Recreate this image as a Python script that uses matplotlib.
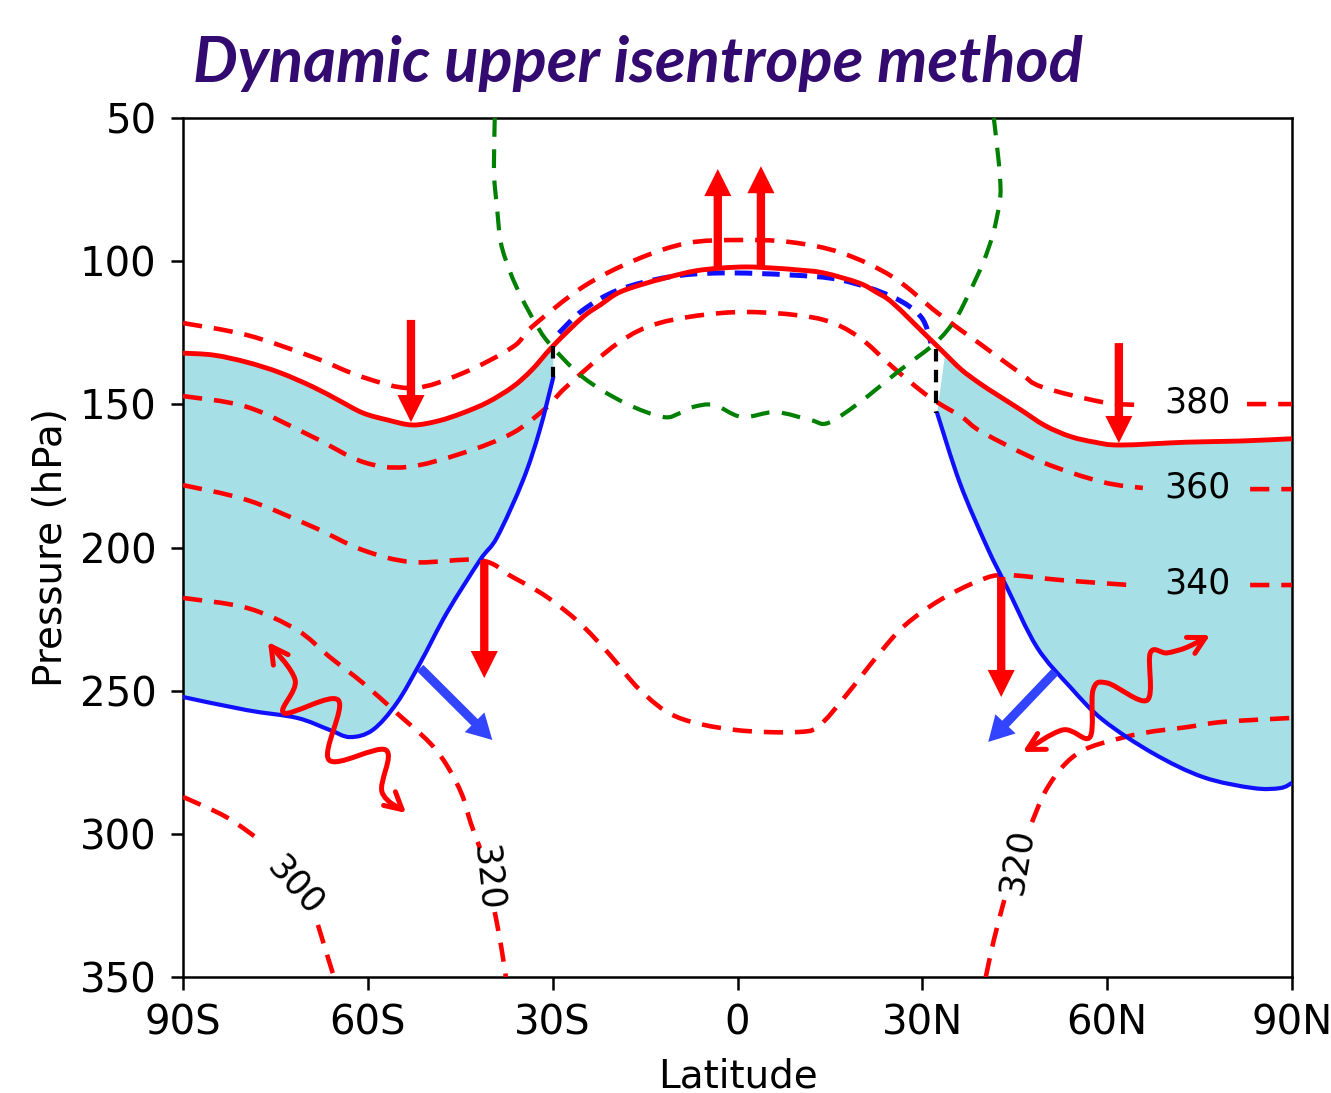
import numpy as np
import matplotlib.pyplot as plt
from matplotlib.path import Path
from matplotlib.patches import FancyArrowPatch, PathPatch

# latitude in degrees (negative = south), pressure in hPa
# NaN marks the gap where a contour label sits

# dynamic tropopause (solid red)
trop_lat = [-90, -85.0, -79.6, -74.3, -68.9, -64.8, -60.8, -56.7, -52.7, -48.6, -44.6, -40.5,
            -36.5, -33.4, -29.9, -25.1, -22.3, -19.4, -15.8, -11.1, -6.9, -2.7, 1.5,
            5.8, 10.1, 14.0, 19.7, 22.5, 25.2, 30.9, 32.1, 33.7, 36.4, 39.4, 42.1,
            45.9, 49.9, 54.0, 58.0, 62.1, 73.0, 81.6, 90]
trop_p = [132.1, 132.8, 135.3, 138.9, 143.9, 148.5, 153.0, 155.5, 157.2, 155.8, 153.0, 149.2,
          143.9, 138.0, 129.5, 119.5, 115.3, 111.1, 108.3, 105.5, 103.4, 102.4, 102.0,
          102.4, 103.1, 104.1, 107.6, 110.8, 114.6, 126.5, 129.0, 132.4, 138.0, 142.8, 146.6,
          151.8, 157.4, 161.2, 163.2, 164.2, 163.2, 162.8, 162.0]

# tropical upper boundary (blue dashed)
trop_blue_lat = [-29.0, -25.1, -19.4, -11.1, -2.7, 8.5, 16.9, 25.2, 29.8, 31.4]
trop_blue_p = [125.1, 117.1, 110.1, 105.5, 104.1, 104.8, 106.6, 112.5, 119.5, 128.6]

# lower boundary of the extratropical layer (solid blue)
south_blue_lat = [-29.9, -32.1, -34.8, -39.0, -41.8, -47.2, -51.5, -55.3, -59.2, -62.9,
                  -66.2, -71.5, -79.6, -90]
south_blue_p = [140.5, 159.0, 176.4, 196.3, 204.4, 222.9, 240.3, 254.3, 263.7, 266.2,
                263.7, 259.5, 256.8, 252.2]
north_blue_lat = [32.4, 36.1, 40.5, 43.7, 48.6, 54.0, 59.3, 67.4, 75.6, 83.7, 88.1, 90]
north_blue_p = [153.0, 177.5, 199.8, 213.8, 234.8, 248.7, 260.2, 271.8, 280.2, 284.0,
                284.0, 282.2]

# isentropes (red dashed)
th380_lat = [-90, -79.6, -68.9, -60.8, -52.7, -44.6, -36.5, -33.4, -25.1, -16.6, -8.2, 0.1,
             8.5, 16.9, 25.2, 32.5, 39.2, 45.9, 49.4, 59.2, 65.0, 74.0, 82.7, 90]
th380_p = [121.6, 125.8, 133.5, 140.5, 144.3, 139.1, 130.0, 123.0, 109.0, 99.6, 93.7, 92.6,
           93.3, 97.1, 105.5, 118.1, 128.6, 139.1, 143.9, 149.2, 150.2, np.nan, 149.9, 149.9]

th360_lat = [-90, -79.6, -68.9, -60.8, -53.7, -44.6, -36.5, -30.9, -27.8, -19.4, -12.7, -2.7,
             5.8, 14.0, 19.7, 25.2, 31.1, 36.4, 39.7, 49.4, 59.2, 65.8, 74.0, 83.2, 90]
th360_p = [147.1, 150.9, 161.4, 170.1, 171.9, 167.0, 160.0, 150.9, 143.9, 128.6, 121.6, 118.1,
           118.1, 120.5, 126.5, 137.0, 147.4, 154.4, 159.7, 170.1, 177.1, 179.2, np.nan, 179.6, 179.6]

th340_lat = [-90, -79.6, -68.9, -60.8, -52.7, -41.8, -36.5, -30.9, -25.6, -20.7, -15.8, -9.8,
             -0.4, 10.1, 13.4, 17.4, 23.1, 27.2, 32.9, 39.4, 43.6, 52.7, 63.7, 74.0, 83.2, 90]
th340_p = [178.2, 183.4, 192.8, 200.9, 205.1, 204.4, 210.3, 217.3, 226.4, 237.5, 249.8, 259.2,
           263.7, 264.4, 261.9, 252.2, 236.8, 227.1, 218.3, 211.4, 209.6, 211.4, 213.1, np.nan,
           213.1, 213.1]

th320s_lat = [-90, -79.6, -71.5, -66.2, -60.8, -55.3, -49.9, -47.0, -44.7, -43.3, -41.8,
              -40.7, -39.4, -38.4, -37.6]
th320s_p = [217.6, 221.1, 228.8, 238.2, 247.3, 257.8, 268.3, 276.7, 286.4, 296.2, 305.0,
            np.nan, 327.3, 338.8, 350.0]

th320n_lat = [40.3, 41.6, 43.3, 45.4, 47.8, 49.9, 52.7, 55.6, 59.2, 65.8, 73.0, 78.8, 90]
th320n_p = [350.0, 337.1, 323.1, np.nan, 295.9, 285.4, 276.7, 271.4, 268.3, 264.8, 262.7,
            260.9, 259.5]

th300_lat = [-90, -83.0, -76.9, -71.8, -68.1, -65.7, -65.4]
th300_p = [287.1, 294.1, 303.2, np.nan, 331.8, 348.6, 350.0]

# green dashed contour
green_lat = [-39.4, -39.5, -39.5, -39.0, -38.4, -36.9, -35.1, -32.9, -30.6, -25.1, -18.3,
             -12.1, -9.3, -7.2, -3.8, 0.7, 6.2, 11.9, 14.7, 19.7, 26.4, 32.1, 35.3, 37.6,
             39.9, 41.5, 42.6, 42.6, 42.1, 41.6]
green_p = [50.0, 61.2, 70.6, 82.1, 93.7, 103.8, 112.5, 121.2, 128.6, 140.5, 149.5,
           154.4, 153.0, 150.9, 150.2, 154.4, 152.7, 155.5, 156.5, 149.5, 138.0, 128.6, 120.5, 111.1,
           100.3, 90.2, 78.6, 70.6, 59.4, 50.0]

# black dashed joins (lat, p_top, p_bottom)
join_south = (-29.9, 129.5, 140.5)
join_north = (32.2, 130.5, 153.0)

# contour labels: (text, lat, p, rotation)
labels = [('380', 74.6, 149.5, 0), ('360', 74.6, 178.9, 0), ('340', 74.6, 212.4, 0),
          ('320', -40.7, 315.4, -84), ('300', -71.8, 317.9, -48), ('320', 45.4, 309.8, 80)]

# arrows: (start lat, start p, tip lat, tip p)
red_arrows = [(-3.2, 103.1, -3.2, 67.8), (3.8, 102.4, 3.8, 66.8),
              (-53.0, 120.5, -53.0, 156.2), (-41.1, 204.4, -41.1, 245.6),
              (61.9, 128.6, 61.9, 163.5), (42.8, 210.3, 42.8, 252.2)]
blue_arrows = [(-51.5, 242.1, -39.8, 267.2), (51.5, 243.5, 40.7, 267.9)]

wave_s_lat = [-76.2, -71.8, -73.6, -64.8, -66.3, -57.1, -57.7, -53.8]
wave_s_p = [233.0, 246.3, 257.8, 253.3, 274.2, 270.7, 285.4, 292.7]
wave_n_lat = [46.3, 52.8, 57.2, 57.7, 60.0, 66.5, 67.0, 69.7, 73.0, 76.7]
wave_n_p = [271.4, 263.7, 266.2, 249.8, 247.3, 253.3, 236.8, 236.8, 234.8, 230.6]

xticks = [-90, -60, -30, 0, 30, 60, 90]
xticklabels = ['90S', '60S', '30S', '0', '30N', '60N', '90N']
yticks = [50, 100, 150, 200, 250, 300, 350]


# smooth curve through the traced points (Catmull-Rom as cubic Bezier), split at NaN
def curve(lats, ps):
    pts = np.column_stack([lats, ps]).astype(float)
    good = ~np.isnan(pts).any(axis=1)
    verts, codes = [], []
    i = 0
    while i < len(pts):
        if not good[i]:
            i += 1
            continue
        j = i
        while j < len(pts) and good[j]:
            j += 1
        seg = pts[i:j]
        ext = np.vstack([seg[0], seg, seg[-1]])
        verts.append(seg[0])
        codes.append(Path.MOVETO)
        for k in range(len(seg) - 1):
            p0, p1, p2, p3 = ext[k], ext[k + 1], ext[k + 2], ext[k + 3]
            verts += [p1 + (p2 - p0) / 6, p2 - (p3 - p1) / 6, p2]
            codes += [Path.CURVE4] * 3
        i = j
    return verts, codes


def draw(lats, ps, **kw):
    v, c = curve(lats, ps)
    ax.add_patch(PathPatch(Path(v, c), fill=False, **kw))


fig = plt.figure(figsize=(13.31, 10.93), dpi=100)
ax = fig.add_axes([0.1375, 0.1061, 0.8332, 0.7859])

RED = '#ff0000'
BLUE = '#1010ff'
CYAN = '#a6e0e6'
dash = (0, (4.2, 2.6))

# shaded extratropical layer between tropopause and blue line
trop_lat_a = np.array(trop_lat)
trop_p_a = np.array(trop_p)
for m, blat, bp in [(trop_lat_a <= join_south[0], south_blue_lat, south_blue_p),
                    (trop_lat_a >= join_north[0], north_blue_lat[::-1], north_blue_p[::-1])]:
    v1, c1 = curve(trop_lat_a[m], trop_p_a[m])
    v2, c2 = curve(blat, bp)
    c2[0] = Path.LINETO
    ax.add_patch(PathPatch(Path(v1 + v2 + [v1[0]], c1 + c2 + [Path.CLOSEPOLY]),
                           fc=CYAN, ec='none', lw=0, zorder=1))

# isentropes
for la, pp in [(th380_lat, th380_p), (th360_lat, th360_p), (th340_lat, th340_p),
               (th320s_lat, th320s_p), (th320n_lat, th320n_p), (th300_lat, th300_p)]:
    draw(la, pp, ec=RED, lw=3.3, ls=dash, zorder=3)

draw(green_lat, green_p, ec='#008000', lw=3.0, ls=(0, (4.5, 3.0)), zorder=3)

draw(south_blue_lat, south_blue_p, ec=BLUE, lw=3.0, zorder=4, capstyle='round')
draw(north_blue_lat, north_blue_p, ec=BLUE, lw=3.0, zorder=4, capstyle='round')
draw(trop_blue_lat, trop_blue_p, ec=BLUE, lw=3.6, ls=(0, (3.5, 2.0)), zorder=4)
draw(trop_lat, trop_p, ec=RED, lw=3.5, zorder=5)

for lat0, p0, p1 in [join_south, join_north]:
    ax.plot([lat0, lat0], [p0, p1], color='black', lw=3.0, dashes=(3, 2), zorder=5)

for txt, la, pp, rot in labels:
    ax.text(la, pp, txt, fontsize=25, rotation=rot, ha='center', va='center',
            rotation_mode='anchor', zorder=6)

# straight arrows
for x0, y0, x1, y1 in red_arrows:
    ax.annotate('', xy=(x1, y1), xytext=(x0, y0), zorder=7,
                arrowprops=dict(arrowstyle='simple,head_length=1.95,head_width=1.95,tail_width=0.6',
                                mutation_scale=10, fc=RED, ec='none', lw=0,
                                shrinkA=0, shrinkB=0))
for x0, y0, x1, y1 in blue_arrows:
    ax.annotate('', xy=(x1, y1), xytext=(x0, y0), zorder=7,
                arrowprops=dict(arrowstyle='simple,head_length=1.8,head_width=2.0,tail_width=0.65',
                                mutation_scale=10, fc='#3344ff', ec='none', lw=0,
                                shrinkA=0, shrinkB=0))

# wavy double arrows
for la, pp in [(wave_s_lat, wave_s_p), (wave_n_lat, wave_n_p)]:
    v, c = curve(la, pp)
    ax.add_patch(FancyArrowPatch(path=Path(v, c),
                                 arrowstyle='<->,head_length=1.2,head_width=0.65',
                                 mutation_scale=10, color=RED, lw=3.6, zorder=7,
                                 joinstyle='round'))

ax.set_xlim(-90, 90)
ax.set_ylim(350, 50)
ax.set_xticks(xticks)
ax.set_xticklabels(xticklabels)
ax.set_yticks(yticks)
ax.tick_params(length=9, width=1.8, labelsize=29, pad=10)
for s in ax.spines.values():
    s.set_linewidth(1.8)
ax.set_xlabel('Latitude', fontsize=28, labelpad=10)
ax.set_ylabel('Pressure (hPa)', fontsize=28, labelpad=7)

fig.text(0.479, 0.942, 'Dynamic upper isentrope method', fontsize=45.5, fontweight='bold',
         style='italic', color='#330a70', family='Lato', ha='center', va='center')

fig.savefig('out.png', dpi=100)
